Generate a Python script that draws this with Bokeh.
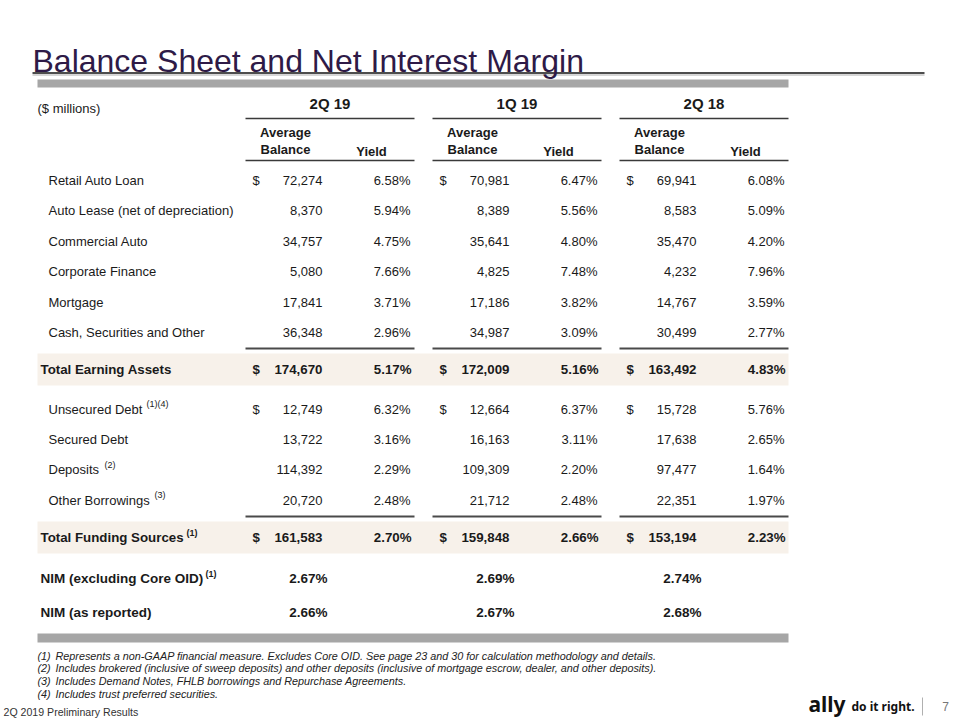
from bokeh.plotting import figure
from bokeh.models import Range1d
from bokeh.core.properties import value
from bokeh.embed import file_html
from bokeh.resources import INLINE

# ---------------- data ----------------
title = "Balance Sheet and Net Interest Margin"
unit_label = "($ millions)"
periods = ["2Q 19", "1Q 19", "2Q 18"]
sub_headers = ["Average", "Balance", "Yield"]

asset_labels = ["Retail Auto Loan", "Auto Lease (net of depreciation)", "Commercial Auto",
                "Corporate Finance", "Mortgage", "Cash, Securities and Other"]
asset_bal_2q19 = [72274, 8370, 34757, 5080, 17841, 36348]
asset_yld_2q19 = [6.58, 5.94, 4.75, 7.66, 3.71, 2.96]
asset_bal_1q19 = [70981, 8389, 35641, 4825, 17186, 34987]
asset_yld_1q19 = [6.47, 5.56, 4.80, 7.48, 3.82, 3.09]
asset_bal_2q18 = [69941, 8583, 35470, 4232, 14767, 30499]
asset_yld_2q18 = [6.08, 5.09, 4.20, 7.96, 3.59, 2.77]

total_assets_label = "Total Earning Assets"
total_assets_bal = [174670, 172009, 163492]
total_assets_yld = [5.17, 5.16, 4.83]

funding_labels = ["Unsecured Debt", "Secured Debt", "Deposits", "Other Borrowings"]
funding_notes = ["(1)(4)", "", "(2)", "(3)"]
funding_bal_2q19 = [12749, 13722, 114392, 20720]
funding_yld_2q19 = [6.32, 3.16, 2.29, 2.48]
funding_bal_1q19 = [12664, 16163, 109309, 21712]
funding_yld_1q19 = [6.37, 3.11, 2.20, 2.48]
funding_bal_2q18 = [15728, 17638, 97477, 22351]
funding_yld_2q18 = [5.76, 2.65, 1.64, 1.97]

total_funding_label = "Total Funding Sources"
total_funding_note = "(1)"
total_funding_bal = [161583, 159848, 153194]
total_funding_yld = [2.70, 2.66, 2.23]

nim_labels = ["NIM (excluding Core OID)", "NIM (as reported)"]
nim_notes = ["(1)", ""]
nim_excl_core_oid = [2.67, 2.69, 2.74]
nim_reported = [2.66, 2.67, 2.68]

footnote_marks = ["(1)", "(2)", "(3)", "(4)"]
footnote_texts = [
    "Represents a non-GAAP financial measure. Excludes Core OID. See page 23 and 30 for calculation methodology and details.",
    "Includes brokered (inclusive of sweep deposits) and other deposits (inclusive of mortgage escrow, dealer, and other deposits).",
    "Includes Demand Notes, FHLB borrowings and Repurchase Agreements.",
    "Includes trust preferred securities.",
]
footer_text = "2Q 2019 Preliminary Results"
logo_word = "ally"
logo_tag = "do it right."
page_number = "7"

# ---------------- layout ----------------
FONT = "Liberation Sans"
TXT = "#1a1a1a"
PURPLE = "#2e1a47"
BAND = "#f7f1ea"
GRAY_BAND = "#a6a6a6"

W, H = 960, 720
GROUP_X0 = [245, 432, 619]
GROUP_W = 169
DOLLAR_DX, BAL_DX, YLD_DX, NIM_DX = 7, 77, 165, 82
AVG_DX, YIELD_HDR_DX = 40, 126
TABLE_L, TABLE_R = 37, 788

ASSET_Y0, ROW_H = 180, 30.4
TOTAL_ASSET_Y = 369
FUND_Y0, FUND_H = 408.5, 30.4
TOTAL_FUND_Y = 537
NIM_Y = [578, 612]
FUND_NOTE_X = [146, None, 104, 154]
TOTAL_FUND_NOTE_X = 186
NIM_NOTE_X = [205, None]

p = figure(width=W, height=H, x_range=Range1d(0, W), y_range=Range1d(H, 0),
           x_axis_type=None, y_axis_type=None, toolbar_location=None,
           output_backend="svg", min_border=0)
p.outline_line_color = None
p.grid.visible = False
p.background_fill_color = "white"
p.border_fill_color = "white"

groups = {}


def txt(x, y, s, size="13px", style="normal", align="left", color=TXT, font=FONT, baseline="middle"):
    key = (size, style, align, color, font, baseline)
    g = groups.setdefault(key, {"x": [], "y": [], "text": []})
    g["x"].append(x)
    g["y"].append(y)
    g["text"].append(s)


def fmt_bal(v):
    return f"{v:,}"


def fmt_pct(v):
    return f"{v:.2f}%"


# title and rules
txt(32, 60, title, size="32px", color=PURPLE, baseline="alphabetic")
p.segment(x0=[32], y0=[74.5], x1=[924], y1=[74.5], line_color="#c8c8c8", line_width=1.5)
p.segment(x0=[32], y0=[72.5], x1=[924], y1=[72.5], line_color="#4d4d4d", line_width=2)
p.quad(left=[TABLE_L], right=[TABLE_R], top=[79], bottom=[87], fill_color=GRAY_BAND, line_color=None)
p.quad(left=[TABLE_L], right=[TABLE_R], top=[633], bottom=[642], fill_color=GRAY_BAND, line_color=None)

# shaded total bands
p.quad(left=[TABLE_L, TABLE_L], right=[TABLE_R, TABLE_R], top=[353, 521], bottom=[385, 553],
       fill_color=BAND, line_color=None)

# headers
txt(37, 108, unit_label, size="13px")
hx0 = list(GROUP_X0) + list(GROUP_X0)
hy = [118] * 3 + [160] * 3
p.segment(x0=hx0, y0=hy, x1=[g + GROUP_W for g in hx0], y1=hy, line_color="#3a3a3a", line_width=1.5)
sy = [348] * 3 + [516] * 3
p.segment(x0=hx0, y0=sy, x1=[g + GROUP_W for g in hx0], y1=sy, line_color="#4a4a4a", line_width=2)

for gi, per in enumerate(periods):
    g0 = GROUP_X0[gi]
    txt(g0 + GROUP_W / 2, 103, per, size="15px", style="bold", align="center")
    txt(g0 + AVG_DX, 132, sub_headers[0], size="13px", style="bold", align="center")
    txt(g0 + AVG_DX, 149, sub_headers[1], size="13px", style="bold", align="center")
    txt(g0 + YIELD_HDR_DX, 151, sub_headers[2], size="13px", style="bold", align="center")

asset_bal = [asset_bal_2q19, asset_bal_1q19, asset_bal_2q18]
asset_yld = [asset_yld_2q19, asset_yld_1q19, asset_yld_2q18]
fund_bal = [funding_bal_2q19, funding_bal_1q19, funding_bal_2q18]
fund_yld = [funding_yld_2q19, funding_yld_1q19, funding_yld_2q18]

# asset rows
for i, lab in enumerate(asset_labels):
    y = ASSET_Y0 + i * ROW_H
    txt(48, y, lab)
    for gi in range(3):
        g0 = GROUP_X0[gi]
        if i == 0:
            txt(g0 + DOLLAR_DX, y, "$")
        txt(g0 + BAL_DX, y, fmt_bal(asset_bal[gi][i]), align="right")
        txt(g0 + YLD_DX, y, fmt_pct(asset_yld[gi][i]), align="right")

# total earning assets
txt(40, TOTAL_ASSET_Y, total_assets_label, size="13.3px", style="bold")
for gi in range(3):
    g0 = GROUP_X0[gi]
    txt(g0 + DOLLAR_DX, TOTAL_ASSET_Y, "$", size="13.3px", style="bold")
    txt(g0 + BAL_DX, TOTAL_ASSET_Y, fmt_bal(total_assets_bal[gi]), size="13.3px", style="bold", align="right")
    txt(g0 + YLD_DX + 1, TOTAL_ASSET_Y, fmt_pct(total_assets_yld[gi]), size="13.3px", style="bold", align="right")

# funding rows
for i, lab in enumerate(funding_labels):
    y = FUND_Y0 + i * FUND_H
    txt(48, y, lab)
    if funding_notes[i]:
        txt(FUND_NOTE_X[i], y - 5, funding_notes[i], size="9px")
    for gi in range(3):
        g0 = GROUP_X0[gi]
        if i == 0:
            txt(g0 + DOLLAR_DX, y, "$")
        txt(g0 + BAL_DX, y, fmt_bal(fund_bal[gi][i]), align="right")
        txt(g0 + YLD_DX, y, fmt_pct(fund_yld[gi][i]), align="right")

# total funding sources
txt(40, TOTAL_FUND_Y, total_funding_label, size="13.3px", style="bold")
txt(TOTAL_FUND_NOTE_X, TOTAL_FUND_Y - 5, total_funding_note, size="9px", style="bold")
for gi in range(3):
    g0 = GROUP_X0[gi]
    txt(g0 + DOLLAR_DX, TOTAL_FUND_Y, "$", size="13.3px", style="bold")
    txt(g0 + BAL_DX, TOTAL_FUND_Y, fmt_bal(total_funding_bal[gi]), size="13.3px", style="bold", align="right")
    txt(g0 + YLD_DX + 1, TOTAL_FUND_Y, fmt_pct(total_funding_yld[gi]), size="13.3px", style="bold", align="right")

# NIM rows
nim_vals = [nim_excl_core_oid, nim_reported]
for i, lab in enumerate(nim_labels):
    y = NIM_Y[i]
    txt(40, y, lab, size="13.5px", style="bold")
    if nim_notes[i]:
        txt(NIM_NOTE_X[i], y - 5, nim_notes[i], size="9px", style="bold")
    for gi in range(3):
        txt(GROUP_X0[gi] + NIM_DX, y, fmt_pct(nim_vals[i][gi]), size="13.5px", style="bold", align="right")

# footnotes
for i, (m, t) in enumerate(zip(footnote_marks, footnote_texts)):
    y = 655 + i * 12.8
    txt(37, y, m, size="10.8px", style="italic", color="#222222")
    txt(55, y, t, size="10.8px", style="italic", color="#222222")

# footer
txt(3, 711, footer_text, size="10.6px", color="#333333")
txt(808, 703, logo_word, size="21px", style="bold", color="#111111", font="Noto Sans")
txt(851, 706, logo_tag, size="12px", style="bold", color="#111111", font="Noto Sans")
p.segment(x0=[922], y0=[697], x1=[922], y1=[715], line_color="#b0b0b0", line_width=1)
txt(945, 706, page_number, size="12px", align="center", color="#777777")

for (size, style, align, color, font, baseline), g in groups.items():
    p.text(x=g["x"], y=g["y"], text=g["text"], text_font=value(font), text_font_size=size,
           text_font_style=style, text_align=align, text_baseline=baseline, text_color=color)

open("out.html", "w").write(file_html(p, INLINE))
